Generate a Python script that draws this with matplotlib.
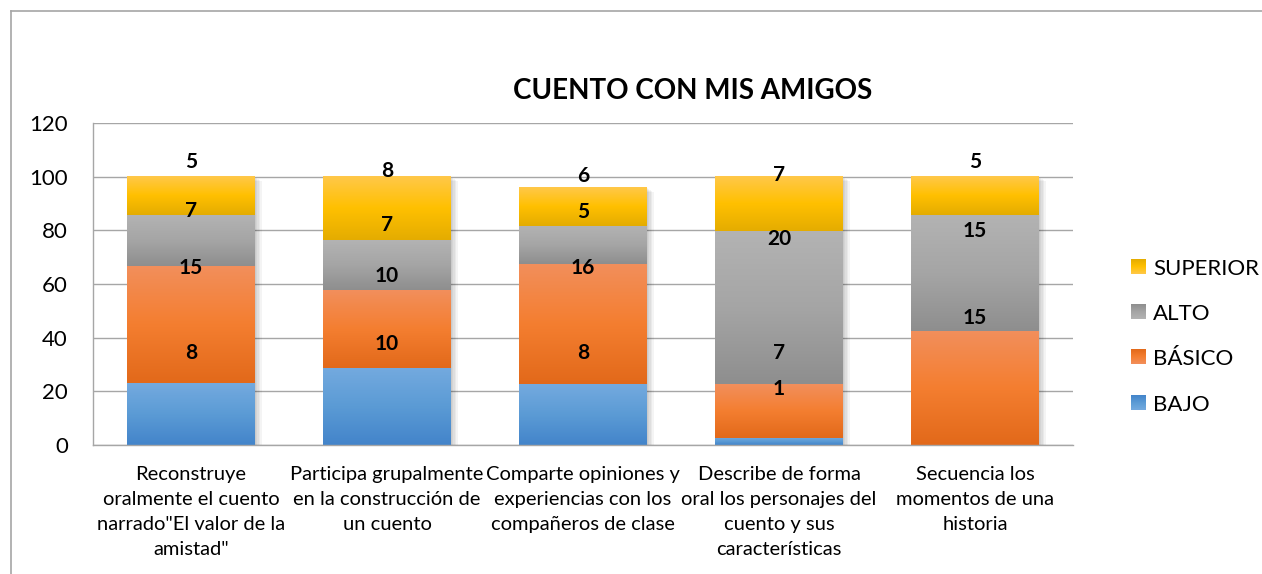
import numpy as np
import matplotlib
matplotlib.use("Agg")
import matplotlib.pyplot as plt
from matplotlib.colors import LinearSegmentedColormap
from matplotlib import patheffects as pe

plt.rcParams['font.family'] = ['Lato', 'DejaVu Sans']

# ---- data (percent heights, student counts shown as labels) ----
categories = [
    'Reconstruye\noralmente el cuento\nnarrado"El valor de la\namistad"',
    'Participa grupalmente\nen la construcción de\nun cuento',
    'Comparte opiniones y\nexperiencias con los\ncompañeros de clase',
    'Describe de forma\noral los personajes del\ncuento y sus\ncaracterísticas',
    'Secuencia los\nmomentos de una\nhistoria',
]
levels = ["BAJO", "BÁSICO", "ALTO", "SUPERIOR"]

bajo_pct = [23.0, 28.8, 22.7, 2.7, 0.0]
basico_pct = [43.8, 29.0, 44.8, 20.0, 42.5]
alto_pct = [18.9, 18.6, 14.1, 56.9, 43.2]
superior_pct = [14.3, 23.6, 14.4, 20.4, 14.3]

bajo_n = [8, 10, 8, 1, None]
basico_n = [15, 10, 16, 7, 15]
alto_n = [7, 7, 5, 20, 15]
superior_n = [5, 8, 6, 7, 5]

# where the count labels sit (they were dragged around in the original)
bajo_label_y = [34.3, 37.6, 34.2, 20.9, None]
basico_label_y = [66.0, 63.0, 65.9, 34.3, 47.2]
alto_label_y = [87.2, 82.0, 87.0, 76.8, 79.8]
superior_label_y = [105.5, 102.2, 100.3, 100.6, 105.6]

# gradient stops: top, middle, bottom
grads = {
    "BAJO": ["#74AADF", "#5B9BD5", "#4384CA"],
    "BÁSICO": ["#F28F5C", "#F47E30", "#E2691A"],
    "ALTO": ["#B3B3B3", "#A5A5A5", "#8E8E8E"],
    "SUPERIOR": ["#FFC84A", "#FFC000", "#E4AC00"],
}

pcts = [bajo_pct, basico_pct, alto_pct, superior_pct]
counts = [bajo_n, basico_n, alto_n, superior_n]
label_ys = [bajo_label_y, basico_label_y, alto_label_y, superior_label_y]

W, H = 1262, 574
fig = plt.figure(figsize=(W / 100, H / 100), dpi=100)
ax = fig.add_axes([93 / W, 1 - 445 / H, 980 / W, 322 / H])

x = np.arange(len(categories))
bw = 0.65
grid_col = "#A6A6A6"

totals = np.sum(pcts, axis=0)
# white base bars carrying a soft drop shadow
shadow = [pe.SimplePatchShadow(offset=(k, -0.6 * k), shadow_rgbFace="#000000", alpha=0.045)
          for k in (1, 2, 3, 4, 5)]
ax.bar(x, totals, width=bw, color="white", zorder=1,
       path_effects=shadow + [pe.Normal()])

grad = np.linspace(0, 1, 256).reshape(-1, 1)
bottom = np.zeros(len(x))
for lvl, vals, ns, lys in zip(levels, pcts, counts, label_ys):
    top, mid, bot = grads[lvl]
    cmap = LinearSegmentedColormap.from_list(lvl, [bot, mid, top])
    for i, v in enumerate(vals):
        if v > 0:
            ax.imshow(grad, cmap=cmap, origin="lower", aspect="auto",
                      extent=[x[i] - bw / 2, x[i] + bw / 2, bottom[i], bottom[i] + v],
                      interpolation="bilinear", zorder=2)
        if ns[i] is not None:
            ax.text(x[i], lys[i], str(ns[i]), ha="center", va="center",
                    fontsize=15, fontweight="bold", color="black", zorder=4)
    bottom += np.array(vals)

ax.set_xlim(-0.5, len(x) - 0.5)
ax.set_ylim(0, 120)
ax.set_yticks(np.arange(0, 121, 20))
ax.yaxis.grid(True, color=grid_col, lw=1)
ax.set_axisbelow(True)
for s in ["top", "right"]:
    ax.spines[s].set_visible(False)
for s in ["left", "bottom"]:
    ax.spines[s].set_color(grid_col)
    ax.spines[s].set_linewidth(1)
ax.tick_params(axis="y", length=0, pad=18, labelsize=16, colors="black")
ax.set_xticks(x)
ax.set_xticklabels(categories, fontsize=14.5, linespacing=1.57)
ax.tick_params(axis="x", length=0, pad=15)

# overlay in pixel coordinates for frame, title and legend
ov = fig.add_axes([0, 0, 1, 1])
ov.set_xlim(0, W)
ov.set_ylim(H, 0)
ov.axis("off")
ov.plot([11, W], [11, 11], color=grid_col, lw=1.2)
ov.plot([11, 11], [11, H], color=grid_col, lw=1.2)

ov.text(693, 99, "CUENTO CON MIS AMIGOS", ha="center", va="baseline",
        fontsize=20, fontweight="bold")

leg_y = [403, 357, 312, 267]
sq = 15
for lvl, cy in zip(levels, leg_y):
    top, mid, bot = grads[lvl]
    cmap = LinearSegmentedColormap.from_list(lvl + "_leg", [bot, mid, top])
    ov.imshow(grad, cmap=cmap, origin="upper", aspect="auto",
              extent=[1131, 1131 + sq, cy + sq / 2, cy - sq / 2], interpolation="bilinear")
    ov.text(1153, cy + 8.3, lvl, ha="left", va="baseline", fontsize=16)
ov.set_xlim(0, W)
ov.set_ylim(H, 0)

fig.savefig("out.png", dpi=100)
